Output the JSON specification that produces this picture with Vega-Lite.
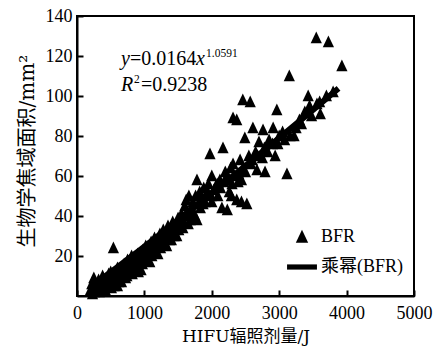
{
  "$schema": "https://vega.github.io/schema/vega-lite/v6.json",
  "width": 337,
  "height": 280,
  "autosize": "none",
  "padding": {"left": 77, "top": 16, "right": 23, "bottom": 52},
  "background": "white",
  "config": {
    "view": {"stroke": "black", "strokeWidth": 2},
    "font": "Liberation Serif",
    "axis": {
      "grid": false,
      "domainColor": "black",
      "domainWidth": 2,
      "tickColor": "black",
      "tickWidth": 2,
      "labelFont": "Liberation Serif",
      "labelFontSize": 18,
      "labelColor": "black",
      "titleFont": "DejaVu Serif, Noto Sans CJK SC",
      "titleFontWeight": "normal",
      "titleColor": "black"
    }
  },
  "datasets": {
    "pts": [
      {"x":200,"y":3},{"x":220,"y":6},{"x":250,"y":9},{"x":260,"y":2},{"x":300,"y":5},{"x":320,"y":8},{"x":350,"y":4},{"x":380,"y":10},{"x":400,"y":7},{"x":420,"y":3},{"x":450,"y":9},{"x":480,"y":6},{"x":500,"y":12},{"x":520,"y":8},{"x":550,"y":5},{"x":540,"y":24},{"x":580,"y":11},{"x":600,"y":14},{"x":620,"y":7},{"x":650,"y":10},{"x":680,"y":15},{"x":700,"y":12},{"x":720,"y":9},{"x":750,"y":18},{"x":760,"y":13},{"x":800,"y":16},{"x":820,"y":11},{"x":850,"y":19},{"x":870,"y":14},{"x":900,"y":21},{"x":920,"y":17},{"x":950,"y":13},{"x":980,"y":23},{"x":1000,"y":19},{"x":1020,"y":25},{"x":1050,"y":21},{"x":1080,"y":17},{"x":1100,"y":27},{"x":1120,"y":23},{"x":1150,"y":29},{"x":1180,"y":25},{"x":1200,"y":21},{"x":1230,"y":31},{"x":1250,"y":27},{"x":1280,"y":33},{"x":1300,"y":29},{"x":1330,"y":25},{"x":1350,"y":35},{"x":1380,"y":31},{"x":1400,"y":28},{"x":1420,"y":37},{"x":1450,"y":33},{"x":1480,"y":30},{"x":1500,"y":39},{"x":1530,"y":35},{"x":1550,"y":41},{"x":1580,"y":37},{"x":1600,"y":45},{"x":1620,"y":48},{"x":1640,"y":42},{"x":1660,"y":50},{"x":1680,"y":38},{"x":1700,"y":44},{"x":1720,"y":47},{"x":1750,"y":40},{"x":1780,"y":58},{"x":1780,"y":38},{"x":1800,"y":46},{"x":1820,"y":52},{"x":1850,"y":49},{"x":1880,"y":54},{"x":1900,"y":47},{"x":1920,"y":51},{"x":1950,"y":56},{"x":2000,"y":60},{"x":1973,"y":71},{"x":2000,"y":47},{"x":2030,"y":53},{"x":2060,"y":55},{"x":2090,"y":50},{"x":2120,"y":58},{"x":2166,"y":74},{"x":2150,"y":44},{"x":2180,"y":57},{"x":2200,"y":62},{"x":2230,"y":43},{"x":2250,"y":59},{"x":2280,"y":64},{"x":2300,"y":56},{"x":2315,"y":89},{"x":2370,"y":88},{"x":2315,"y":66},{"x":2370,"y":48},{"x":2400,"y":61},{"x":2420,"y":68},{"x":2450,"y":63},{"x":2490,"y":79},{"x":2460,"y":98},{"x":2520,"y":46},{"x":2570,"y":97},{"x":2550,"y":70},{"x":2580,"y":66},{"x":2610,"y":84},{"x":2650,"y":72},{"x":2670,"y":63},{"x":2700,"y":77},{"x":2760,"y":83},{"x":2750,"y":69},{"x":2780,"y":74},{"x":2790,"y":62},{"x":2850,"y":78},{"x":2910,"y":84},{"x":2900,"y":76},{"x":2965,"y":93},{"x":2940,"y":70},{"x":3000,"y":80},{"x":3050,"y":82},{"x":3115,"y":61},{"x":3150,"y":110},{"x":3160,"y":80},{"x":3220,"y":80},{"x":3300,"y":88},{"x":3380,"y":92},{"x":3430,"y":100},{"x":3450,"y":95},{"x":3550,"y":129},{"x":3610,"y":91},{"x":3730,"y":127},{"x":3930,"y":115},{"x":3600,"y":97},{"x":3700,"y":100},
      {"x":230,"y":1},{"x":280,"y":4},{"x":330,"y":2},{"x":360,"y":7},{"x":440,"y":6},{"x":470,"y":11},{"x":510,"y":4},{"x":560,"y":9},{"x":600,"y":5},{"x":640,"y":12},{"x":660,"y":7},{"x":700,"y":16},{"x":740,"y":10},{"x":780,"y":14},{"x":810,"y":20},{"x":840,"y":15},{"x":880,"y":18},{"x":910,"y":12},{"x":940,"y":19},{"x":970,"y":16},{"x":1010,"y":22},{"x":1040,"y":18},{"x":1070,"y":24},{"x":1110,"y":20},{"x":1140,"y":26},{"x":1170,"y":22},{"x":1210,"y":28},{"x":1240,"y":24},{"x":1270,"y":30},{"x":1310,"y":26},{"x":1340,"y":32},{"x":1370,"y":28},{"x":1410,"y":34},{"x":1440,"y":30},{"x":1470,"y":36},{"x":1510,"y":33},{"x":1540,"y":38},{"x":1570,"y":34},{"x":1610,"y":40},{"x":1650,"y":36},{"x":1690,"y":42},{"x":1730,"y":40},{"x":1760,"y":50},{"x":1830,"y":44},{"x":1870,"y":46},{"x":1940,"y":52},{"x":1990,"y":50},{"x":2080,"y":56},{"x":2130,"y":54},{"x":2210,"y":58},{"x":2260,"y":52},{"x":2290,"y":50},{"x":2440,"y":47},{"x":2330,"y":60},{"x":2390,"y":57},{"x":2440,"y":58},{"x":2500,"y":62},{"x":2600,"y":68},{"x":2680,"y":70},{"x":2830,"y":72},{"x":2980,"y":76},{"x":3080,"y":78},{"x":3250,"y":84},{"x":3330,"y":86},{"x":3480,"y":90},{"x":3560,"y":96},{"x":3800,"y":102}
    ],
    "fit": [
      {"x":200,"y":4.5},{"x":400,"y":9.4},{"x":600,"y":14.4},{"x":800,"y":19.5},{"x":1000,"y":24.7},{"x":1200,"y":29.9},{"x":1500,"y":37.9},{"x":2000,"y":51.4},{"x":2500,"y":65.1},{"x":3000,"y":79.0},{"x":3500,"y":93.0},{"x":3880,"y":103.8}
    ],
    "italic": [
      {"t":"y","x":653,"y":115.5},{"t":"x","x":1766,"y":115.5},{"t":"R","x":653,"y":102.5}
    ],
    "normal": [
      {"t":"=0.0164","x":786,"y":115.5},{"t":"=0.9238","x":950,"y":102.5}
    ],
    "sup": [
      {"t":"1.0591","x":1914,"y":119.5},{"t":"2","x":846,"y":106.5}
    ]
  },
  "layer": [
    {
      "data": {"name": "fit"},
      "mark": {"type": "line", "color": "black", "strokeWidth": 6, "interpolate": "monotone"},
      "encoding": {
        "x": {"field": "x", "type": "quantitative"},
        "y": {"field": "y", "type": "quantitative"}
      }
    },
    {
      "data": {"name": "pts"},
      "transform": [{"calculate": "'BFR'", "as": "s"}],
      "mark": {"type": "point", "filled": true, "color": "black", "opacity": 1, "size": 140},
      "encoding": {
        "x": {
          "field": "x", "type": "quantitative",
          "scale": {"domain": [0, 5000], "nice": false},
          "axis": {
            "title": "HIFU辐照剂量/J",
            "titleFontSize": 17,
            "format": "d",
            "values": [0, 1000, 2000, 3000, 4000, 5000],
            "tickSize": -6,
            "labelPadding": 14,
            "labelFlush": false,
            "titleY": 45,
            "titleBaseline": "alphabetic"
          }
        },
        "y": {
          "field": "y", "type": "quantitative",
          "scale": {"domain": [0, 140], "nice": false},
          "axis": {
            "title": "生物学焦域面积/mm²",
            "titleFontSize": 20,
            "values": [20, 40, 60, 80, 100, 120, 140],
            "tickSize": -6,
            "labelPadding": 11,
            "labelFlush": false,
            "titleX": -50,
            "titleY": 231,
            "titleAlign": "left",
            "titleBaseline": "middle"
          }
        },
        "shape": {
          "field": "s", "type": "nominal",
          "scale": {"domain": ["BFR", "乘幂(BFR)"], "range": ["M0,-1.1L0.95,0.9L-0.95,0.9Z", "M-2.3,-0.4H2.3V0.4H-2.3Z"]},
          "legend": {
            "title": null,
            "orient": "none",
            "legendX": 216,
            "legendY": 212,
            "padding": 0,
            "symbolSize": 169,
            "symbolFillColor": "black",
            "symbolStrokeColor": "black",
            "symbolStrokeWidth": 0,
            "labelOffset": 10,
            "rowPadding": 12,
            "labelFont": "Liberation Serif, Noto Sans CJK SC",
            "labelFontSize": 18,
            "labelColor": "black"
          }
        }
      }
    },
    {
      "data": {"name": "italic"},
      "mark": {"type": "text", "font": "Liberation Serif", "fontStyle": "italic", "fontSize": 20, "align": "left", "baseline": "alphabetic", "color": "black"},
      "encoding": {
        "x": {"field": "x", "type": "quantitative"},
        "y": {"field": "y", "type": "quantitative"},
        "text": {"field": "t"}
      }
    },
    {
      "data": {"name": "normal"},
      "mark": {"type": "text", "font": "Liberation Serif", "fontSize": 20, "align": "left", "baseline": "alphabetic", "color": "black"},
      "encoding": {
        "x": {"field": "x", "type": "quantitative"},
        "y": {"field": "y", "type": "quantitative"},
        "text": {"field": "t"}
      }
    },
    {
      "data": {"name": "sup"},
      "mark": {"type": "text", "font": "Liberation Serif", "fontSize": 11.5, "align": "left", "baseline": "alphabetic", "color": "black"},
      "encoding": {
        "x": {"field": "x", "type": "quantitative"},
        "y": {"field": "y", "type": "quantitative"},
        "text": {"field": "t"}
      }
    }
  ]
}
